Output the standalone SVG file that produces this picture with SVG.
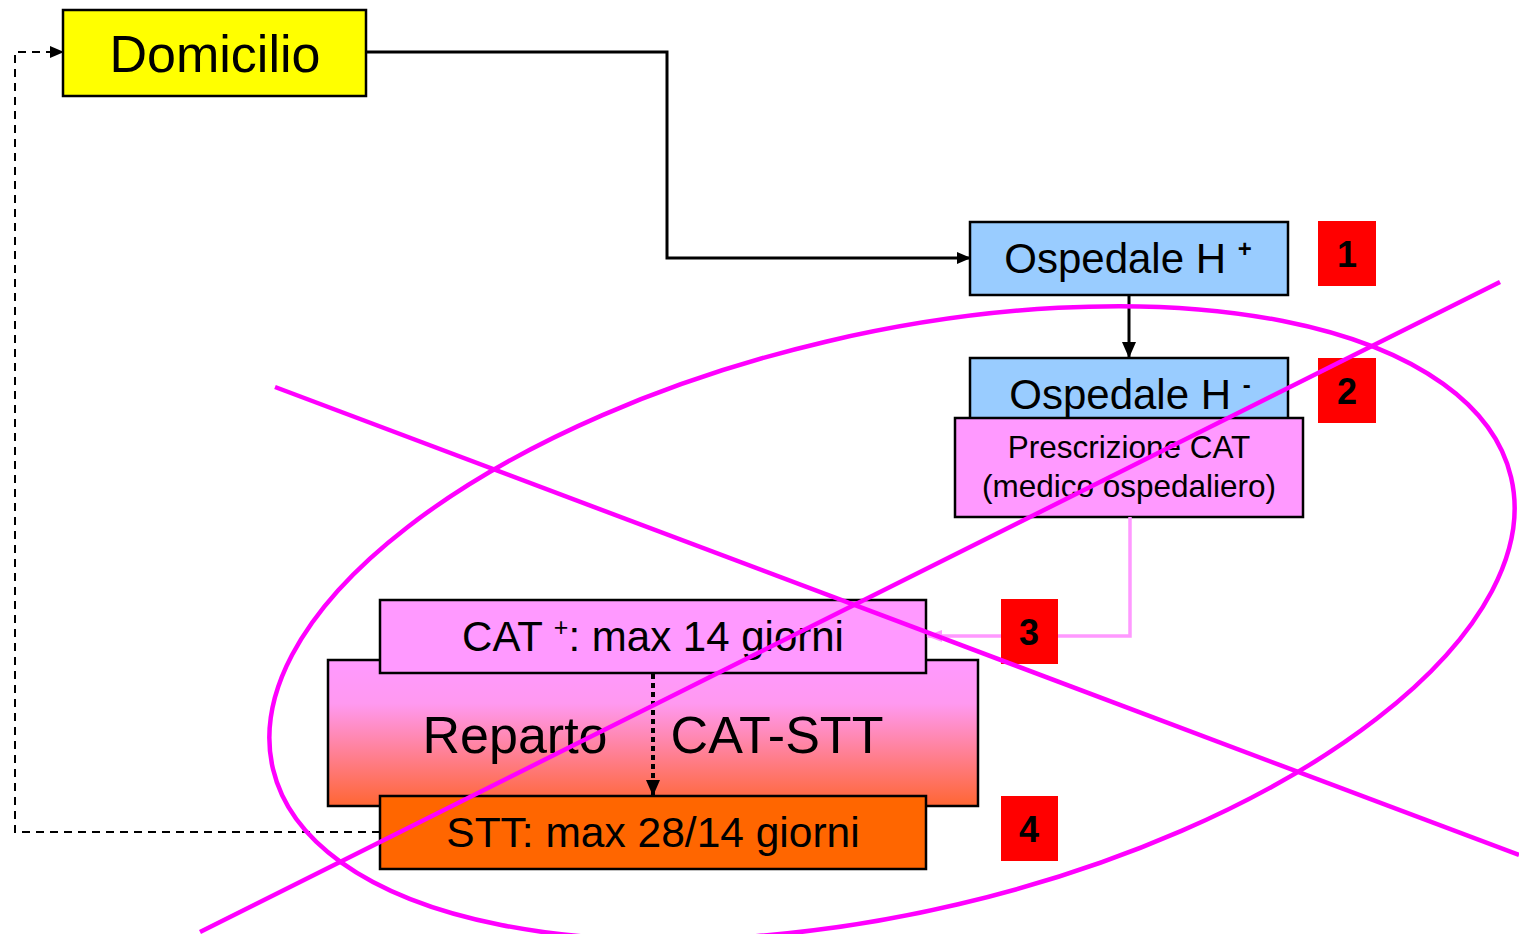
<svg xmlns="http://www.w3.org/2000/svg" width="1519" height="934" viewBox="0 0 1519 934">
<style>
.box{stroke:#000;stroke-width:2.5}
.t{font-family:"Liberation Sans",Arial,sans-serif;fill:#000;text-anchor:middle}
.badge{fill:#FF0000}
.bt{font-family:"Liberation Sans",Arial,sans-serif;font-weight:bold;font-size:36px;fill:#000;text-anchor:middle}
.mag{fill:none;stroke:#FF00FF;stroke-width:4.5}
</style>
<defs>
<linearGradient id="rep" x1="0" y1="0" x2="0" y2="1">
<stop offset="0" stop-color="#FF99FF"/>
<stop offset="0.3" stop-color="#FF99F0"/>
<stop offset="1" stop-color="#FF6633"/>
</linearGradient>
<marker id="ab" markerWidth="14" markerHeight="12" refX="13" refY="6" orient="auto" markerUnits="userSpaceOnUse" viewBox="0 0 14 12">
<path d="M0,0 L14,6 L0,12 z" fill="#000"/>
</marker>
<marker id="ab2" markerWidth="16" markerHeight="14" refX="15" refY="7" orient="auto" markerUnits="userSpaceOnUse" viewBox="0 0 16 14">
<path d="M0,0 L16,7 L0,14 z" fill="#000"/>
</marker>
<marker id="ap" markerWidth="16" markerHeight="12" refX="15" refY="6" orient="auto" markerUnits="userSpaceOnUse" viewBox="0 0 16 12">
<path d="M0,0 L16,6 L0,12 z" fill="#FF99FF"/>
</marker>
</defs>

<g id="domicilio">
<rect class="box" x="63" y="10" width="303" height="86" fill="#FFFF00"/>
<text class="t" x="215" y="72" font-size="52">Domicilio</text>
</g>

<g id="ospedale-h-plus">
<rect class="box" x="970" y="222" width="318" height="73" fill="#99CCFF"/>
<text class="t" x="1128" y="273" font-size="42">Ospedale H <tspan font-size="24" font-weight="bold" dy="-16">+</tspan></text>
</g>

<g id="ospedale-h-minus">
<rect class="box" x="970" y="358" width="318" height="70" fill="#99CCFF"/>
<text class="t" x="1130" y="409" font-size="42">Ospedale H <tspan font-size="24" font-weight="bold" dy="-16">-</tspan></text>
</g>

<g id="prescrizione">
<rect class="box" x="955" y="418" width="348" height="99" fill="#FF99FF"/>
<text class="t" x="1129" y="458" font-size="31.5">Prescrizione CAT</text>
<text class="t" x="1129" y="497" font-size="31.5">(medico ospedaliero)</text>
</g>

<g id="reparto">
<rect class="box" x="328" y="660" width="650" height="146" fill="url(#rep)"/>
<text class="t" x="515" y="753" font-size="52">Reparto</text>
<text class="t" x="777" y="753" font-size="52">CAT-STT</text>
</g>

<g id="cat-plus">
<rect class="box" x="380" y="600" width="546" height="73" fill="#FF99FF"/>
<text class="t" x="653" y="651" font-size="42">CAT <tspan font-size="25" dy="-15">+</tspan><tspan dy="15">: max 14 giorni</tspan></text>
</g>

<g id="stt">
<rect class="box" x="380" y="796" width="546" height="73" fill="#FF6600"/>
<text class="t" x="653" y="847" font-size="42.5">STT: max 28/14 giorni</text>
</g>

<g id="connectors">
<polyline points="366,52 667,52 667,258 970,258" fill="none" stroke="#000" stroke-width="3" marker-end="url(#ab)"/>
<line x1="1129" y1="295" x2="1129" y2="357" stroke="#000" stroke-width="3" marker-end="url(#ab2)"/>
<polyline points="1130,517 1130,636 927,636" fill="none" stroke="#FF99FF" stroke-width="3.5" marker-end="url(#ap)"/>
<line x1="653" y1="674" x2="653" y2="795" stroke="#000" stroke-width="4" stroke-dasharray="5,4" marker-end="url(#ab2)"/>
<polyline points="380,832 15,832 15,52 63,52" fill="none" stroke="#000" stroke-width="2" stroke-dasharray="8,6" marker-end="url(#ab)"/>
</g>

<g id="badge-1"><rect class="badge" x="1318" y="221" width="58" height="65"/><text class="bt" x="1347" y="267">1</text></g>
<g id="badge-2"><rect class="badge" x="1318" y="358" width="58" height="65"/><text class="bt" x="1347" y="404">2</text></g>
<g id="badge-3"><rect class="badge" x="1001" y="599" width="57" height="65"/><text class="bt" x="1029" y="645">3</text></g>
<g id="badge-4"><rect class="badge" x="1001" y="796" width="57" height="65"/><text class="bt" x="1029" y="842">4</text></g>

<g id="overlay">
<ellipse class="mag" cx="892" cy="623" rx="636" ry="289" transform="rotate(-13.25 892 623)"/>
<line class="mag" x1="275" y1="387" x2="1519" y2="855"/>
<line class="mag" x1="200" y1="932" x2="1500" y2="282"/>
</g>
</svg>
